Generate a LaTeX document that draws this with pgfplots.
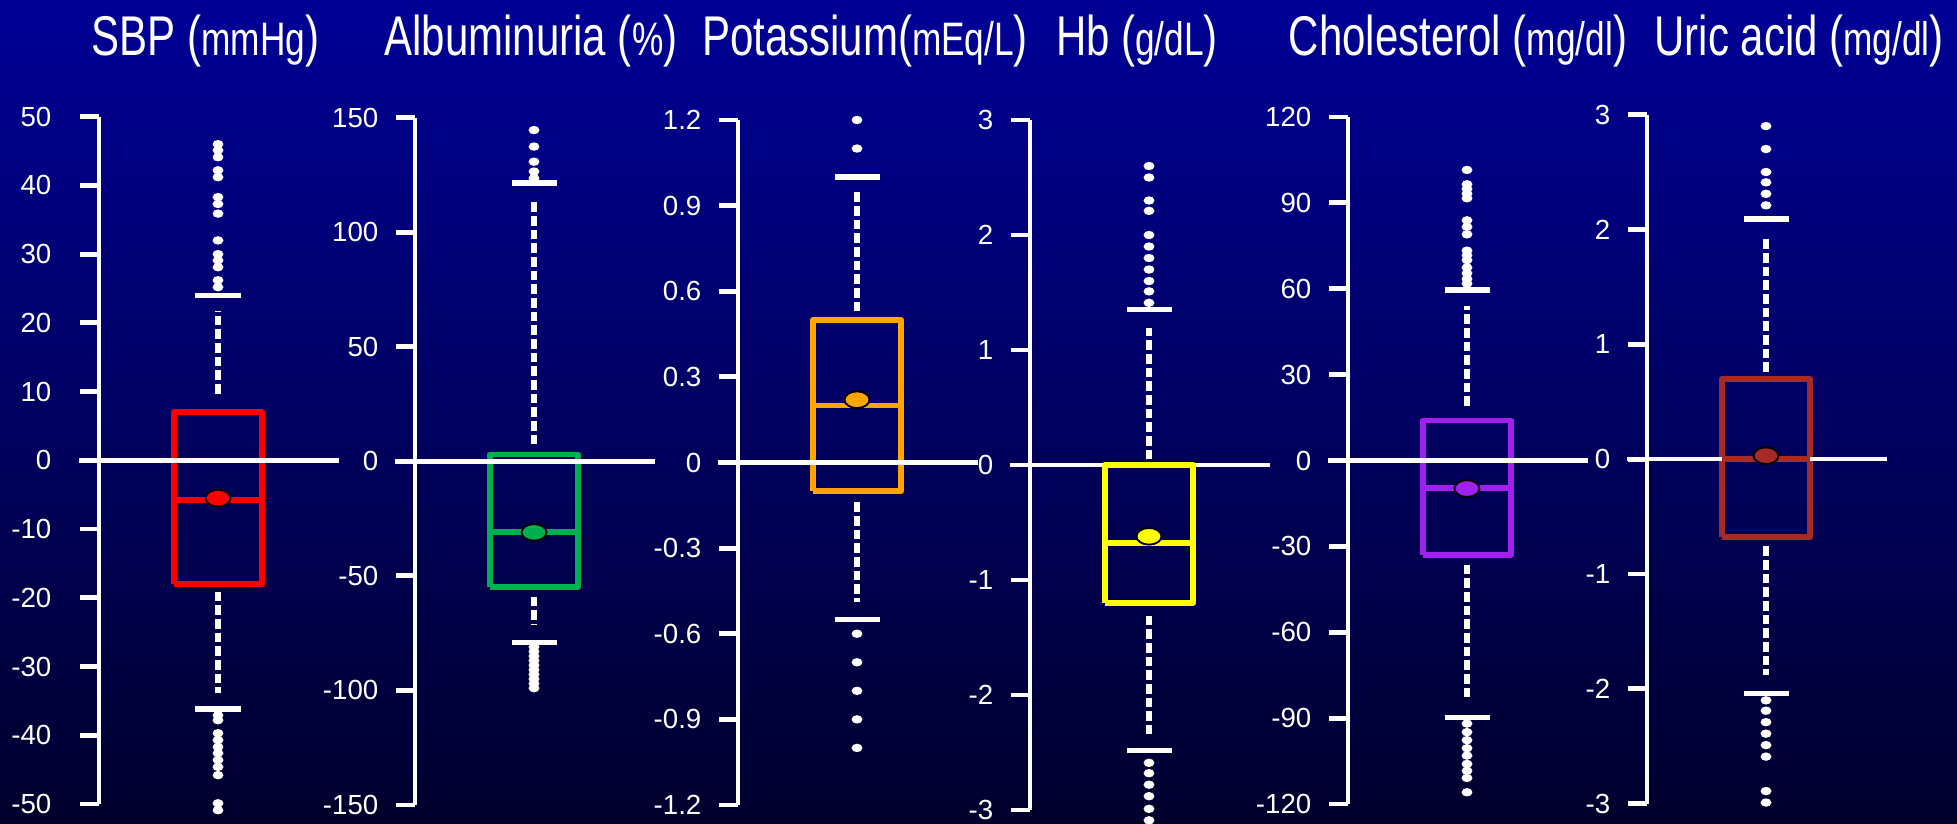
\documentclass[border=0pt]{standalone}
\usepackage{fontspec}
\setmainfont{Liberation Sans}
\newfontfamily\titlefont[FakeStretch=0.75]{Liberation Sans}
\newfontfamily\tickfont{Liberation Sans}
\usepackage{pgfplots}
\pgfplotsset{compat=1.18}
\definecolor{bgtop}{RGB}{0,0,150}
\definecolor{bgbot}{RGB}{0,0,45}
\definecolor{cRed}{RGB}{255,0,0}
\definecolor{cGreen}{RGB}{0,176,80}
\definecolor{cOrange}{RGB}{255,165,0}
\definecolor{cYellow}{RGB}{255,255,0}
\definecolor{cPurple}{RGB}{160,32,240}
\definecolor{cBrown}{RGB}{165,42,42}
\newcommand\TBig{\fontsize{16.8}{20}\selectfont}
\newcommand\TSmall{\fontsize{14.1}{16}\selectfont}
\pgfplotsset{
  bp/.style={
    scale only axis, width=72pt, xmin=0, xmax=240, clip=false,
    axis x line=none, axis y line=left,
    axis line style={-, white, line width=1.45pt},
    tick align=outside, major tick length=5.7pt,
    ytick style={white, line width=1.45pt},
    yticklabel style={white, font=\tickfont\fontsize{8.3}{9}\selectfont, inner sep=0pt, xshift=-5.1pt},
    anchor=south west,
  },
  boxs/.style={#1, line width=1.75pt, line join=round},
  zl/.style={white, line width=1.35pt},
  wh/.style={white, line width=1.7pt, dash pattern=on 2.9pt off 1.2pt},
  cap/.style={white, line width=1.6pt},
  outl/.style={only marks, mark=*, mark size=1.05pt, mark options={fill=white, draw=white, xscale=1.35}},
  mn/.style={only marks, mark=*, mark size=2.5pt, mark options={xscale=1.5, draw=black, fill=#1, line width=0.55pt}},
}
\begin{document}
\begin{tikzpicture}
\shade[top color=bgtop, bottom color=bgbot] (0,0) rectangle (587.1pt,246.9pt);
% titles
\node[anchor=base, white, inner sep=0pt] at (61.65pt,230.1pt) {\titlefont\TBig SBP ({\TSmall mmHg})};
\node[anchor=base, white, inner sep=0pt] at (159.3pt,230.1pt) {\titlefont\TBig Albuminuria ({\TSmall \%})};
\node[anchor=base, white, inner sep=0pt] at (259.5pt,230.1pt) {\titlefont\TBig Potassium({\TSmall mEq/L})};
\node[anchor=base, white, inner sep=0pt] at (341.1pt,230.1pt) {\titlefont\TBig Hb ({\TSmall g/dL})};
\node[anchor=base, white, inner sep=0pt] at (437.4pt,230.1pt) {\titlefont\TBig Cholesterol ({\TSmall mg/dl})};
\node[anchor=base, white, inner sep=0pt] at (539.7pt,230.1pt) {\titlefont\TBig Uric acid ({\TSmall mg/dl})};

% Panel 1 SBP
\begin{axis}[bp, at={(29.7pt,5.7pt)}, height=206.19pt, ymin=-50, ymax=50,
  ytick={-50,-40,-30,-20,-10,0,10,20,30,40,50},
  yticklabels={-50,-40,-30,-20,-10,0,10,20,30,40,50},
  yticklabel style={xshift=-3.3pt}]
\addplot[boxs=cRed] coordinates {(75,-18)(163,-18)(163,7)(75,7)(75,-18)};
\addplot[zl] coordinates {(-20,0)(240,0)};
\addplot[boxs=cRed] coordinates {(75,-5.8)(163,-5.8)};
\addplot[wh] coordinates {(119,9.7)(119,21.8)};
\addplot[wh] coordinates {(119,-19.1)(119,-33.9)};
\addplot[cap] coordinates {(96.5,24)(141.5,24)};
\addplot[cap] coordinates {(96.5,-36.2)(141.5,-36.2)};
\addplot[outl] coordinates {(119,25.2)(119,26.2)(119,28.1)(119,29.1)(119,30.0)(119,32.0)(119,35.9)(119,37.3)(119,38.3)(119,41.2)(119,42.2)(119,44.1)(119,45.1)(119,46.0)
 (119,-37.1)(119,-37.8)(119,-39.7)(119,-40.7)(119,-41.7)(119,-42.6)(119,-43.6)(119,-44.6)(119,-45.8)(119,-49.9)(119,-50.9)};
\addplot[mn=cRed] coordinates {(119,-5.5)};
\end{axis}

% Panel 2 Albuminuria
\begin{axis}[bp, at={(124.5pt,5.4pt)}, height=206.19pt, ymin=-150, ymax=150,
  ytick={-150,-100,-50,0,50,100,150},
  yticklabels={-150,-100,-50,0,50,100,150}]
\addplot[boxs=cGreen] coordinates {(75,-55)(163,-55)(163,3)(75,3)(75,-55)};
\addplot[zl] coordinates {(-20,0)(240,0)};
\addplot[boxs=cGreen] coordinates {(75,-31)(163,-31)};
\addplot[wh] coordinates {(119,7.4)(119,113)};
\addplot[wh] coordinates {(119,-59)(119,-71)};
\addplot[cap] coordinates {(96.5,121.5)(141.5,121.5)};
\addplot[cap] coordinates {(96.5,-79.2)(141.5,-79.2)};
\addplot[outl] coordinates {(119,123.6)(119,126.5)(119,130.8)(119,137.4)(119,144.6)
 (119,-81)(119,-83)(119,-85)(119,-87)(119,-89)(119,-91)(119,-93)(119,-95)(119,-97)(119,-99)};
\addplot[mn=cGreen] coordinates {(119,-31)};
\end{axis}

% Panel 3 Potassium
\begin{axis}[bp, at={(221.4pt,5.4pt)}, height=205.5pt, ymin=-1.2, ymax=1.2,
  ytick={-1.2,-0.9,-0.6,-0.3,0,0.3,0.6,0.9,1.2},
  yticklabels={-1.2,-0.9,-0.6,-0.3,0,0.3,0.6,0.9,1.2}]
\addplot[boxs=cOrange] coordinates {(75,-0.1)(163,-0.1)(163,0.5)(75,0.5)(75,-0.1)};
\addplot[zl] coordinates {(-20,0)(240,0)};
\addplot[boxs=cOrange] coordinates {(75,0.2)(163,0.2)};
\addplot[wh] coordinates {(119,0.53)(119,0.96)};
\addplot[wh] coordinates {(119,-0.14)(119,-0.49)};
\addplot[cap] coordinates {(96.5,1.0)(141.5,1.0)};
\addplot[cap] coordinates {(96.5,-0.55)(141.5,-0.55)};
\addplot[outl] coordinates {(119,1.1)(119,1.2)(119,-0.6)(119,-0.7)(119,-0.8)(119,-0.9)(119,-1.0)};
\addplot[mn=cOrange] coordinates {(119,0.22)};
\end{axis}

% Panel 4 Hb
\begin{axis}[bp, at={(309pt,3.9pt)}, height=207pt, ymin=-3, ymax=3,
  ytick={-3,-2,-1,0,1,2,3},
  yticklabels={-3,-2,-1,0,1,2,3}]
\addplot[zl] coordinates {(-20,0)(240,0)};
\addplot[boxs=cYellow] coordinates {(75,-1.2)(163,-1.2)(163,0)(75,0)(75,-1.2)};
\addplot[boxs=cYellow] coordinates {(75,-0.68)(163,-0.68)};
\addplot[wh] coordinates {(119,0.05)(119,1.19)};
\addplot[wh] coordinates {(119,-1.31)(119,-2.34)};
\addplot[cap] coordinates {(96.5,1.35)(141.5,1.35)};
\addplot[cap] coordinates {(96.5,-2.48)(141.5,-2.48)};
\addplot[outl] coordinates {(119,1.41)(119,1.51)(119,1.6)(119,1.7)(119,1.8)(119,1.9)(119,2.0)(119,2.21)(119,2.3)(119,2.5)(119,2.6)
 (119,-2.59)(119,-2.68)(119,-2.78)(119,-2.88)(119,-2.99)(119,-3.09)};
\addplot[mn=cYellow] coordinates {(119,-0.62)};
\end{axis}

% Panel 5 Cholesterol
\begin{axis}[bp, at={(404.4pt,5.7pt)}, height=206.1pt, ymin=-120, ymax=120,
  ytick={-120,-90,-60,-30,0,30,60,90,120},
  yticklabels={-120,-90,-60,-30,0,30,60,90,120}]
\addplot[boxs=cPurple] coordinates {(75,-33)(163,-33)(163,14)(75,14)(75,-33)};
\addplot[zl] coordinates {(-20,0)(240,0)};
\addplot[boxs=cPurple] coordinates {(75,-9.5)(163,-9.5)};
\addplot[wh] coordinates {(119,19)(119,53.8)};
\addplot[wh] coordinates {(119,-36.4)(119,-83.6)};
\addplot[cap] coordinates {(96.5,59.6)(141.5,59.6)};
\addplot[cap] coordinates {(96.5,-89.7)(141.5,-89.7)};
\addplot[outl] coordinates {(119,61.8)(119,63.4)(119,65.4)(119,67.4)(119,70.0)(119,71.7)(119,73.3)(119,79.0)(119,81.6)(119,83.9)(119,91.6)(119,93.2)(119,94.9)(119,96.5)(119,101.5)
 (119,-91.9)(119,-94.9)(119,-97.7)(119,-100.5)(119,-103.1)(119,-106)(119,-108.4)(119,-110.9)(119,-115.9)};
\addplot[mn=cPurple] coordinates {(119,-9.8)};
\end{axis}

% Panel 6 Uric acid
\begin{axis}[bp, at={(494.1pt,5.79pt)}, height=206.73pt, ymin=-3, ymax=3,
  ytick={-3,-2,-1,0,1,2,3},
  yticklabels={-3,-2,-1,0,1,2,3}]
\addplot[boxs=cBrown] coordinates {(75,-0.68)(163,-0.68)(163,0.70)(75,0.70)(75,-0.68)};
\addplot[zl] coordinates {(-20,0)(240,0)};
\addplot[boxs=cBrown] coordinates {(75,0)(163,0)};
\addplot[wh] coordinates {(119,0.76)(119,1.94)};
\addplot[wh] coordinates {(119,-0.76)(119,-1.88)};
\addplot[cap] coordinates {(96.5,2.09)(141.5,2.09)};
\addplot[cap] coordinates {(96.5,-2.04)(141.5,-2.04)};
\addplot[outl] coordinates {(119,2.21)(119,2.31)(119,2.41)(119,2.5)(119,2.7)(119,2.9)
 (119,-2.1)(119,-2.19)(119,-2.29)(119,-2.39)(119,-2.49)(119,-2.59)(119,-2.89)(119,-2.99)};
\addplot[mn=cBrown] coordinates {(119,0.03)};
\end{axis}
\pgfresetboundingbox
\useasboundingbox (0,0) rectangle (587.1pt,246.9pt);
\end{tikzpicture}
\end{document}
